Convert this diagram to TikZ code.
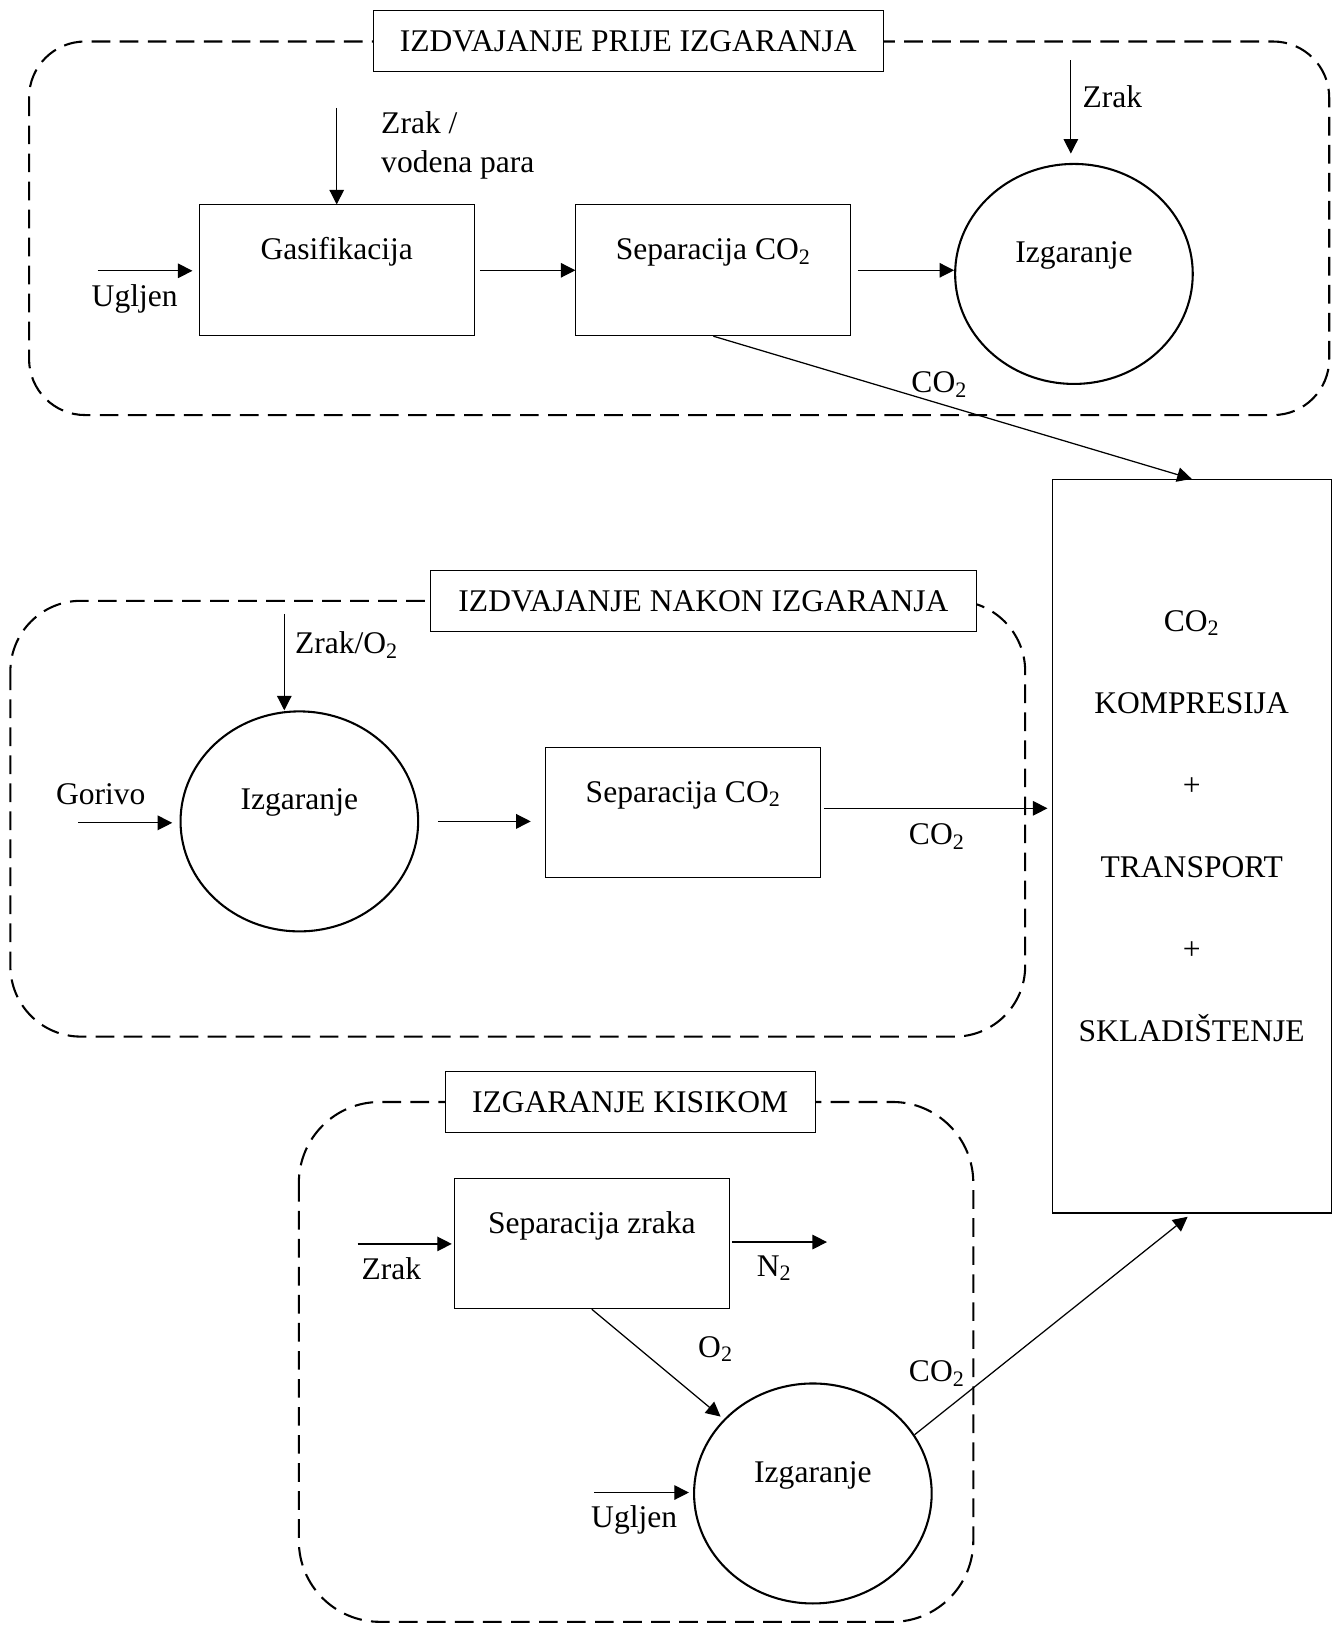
\documentclass[tikz,border=0pt]{standalone}
\usepackage{fontspec}
\setmainfont{Liberation Serif}
\usetikzlibrary{arrows.meta,shapes.geometric}

\tikzset{
    procbox/.style={draw, line width=0.5pt, minimum width=132.5pt, minimum height=63pt, text height=10pt, text depth=20pt},
    burner/.style={draw, ellipse, line width=1pt, minimum width=114.5pt, minimum height=106pt, text height=10pt, text depth=21pt},
    titlebox/.style={draw, fill=white, line width=0.5pt, minimum height=29.5pt, text height=10pt, text depth=0pt},
    group/.style={line width=1pt, dash pattern=on 9pt off 4.5pt},
    flow/.style={-{Triangle[length=7pt,width=7pt]}, line width=0.6pt},
    lbl/.style={inner sep=0pt, anchor=base west},
}

\begin{document}
\begin{tikzpicture}[x=0.5pt, y=-0.5pt, font=\fontsize{15.2pt}{18.5pt}\selectfont]
        \useasboundingbox (0,0) rectangle (1290,1568);

        \draw [group, rounded corners=27pt] (28,40) rectangle (1281,400);
        \draw [group, rounded corners=34pt] (10,579) rectangle (988,999);
        \draw [group, rounded corners=39pt] (288,1062) rectangle (938,1563);

        \node [titlebox, minimum width=245.5pt] (titleA) at (605.5,39.5) {IZDVAJANJE PRIJE IZGARANJA};
        \node [titlebox, minimum width=263pt] (titleB) at (678,579.5) {IZDVAJANJE NAKON IZGARANJA};
        \node [titlebox, minimum width=178.3pt] (titleC) at (607.3,1061.8) {IZGARANJE KISIKOM};

        \node [procbox] (gasA) at (324.5,260.5) {Gasifikacija};
        \node [procbox] (sepA) at (687.5,260.5) {Separacija CO\textsubscript{2}};
        \node [burner] (burnA) at (1035,264) {Izgaranje};

        \node [burner] (burnB) at (288.5,791.6) {Izgaranje};
        \node [procbox] (sepB) at (658.5,783) {Separacija CO\textsubscript{2}};

        \node [procbox] (sepC) at (570.4,1198.3) {Separacija zraka};
        \node [burner] (burnC) at (783.4,1439.3) {Izgaranje};

        \node [draw, line width=0.5pt, minimum width=134.5pt, minimum height=353.5pt] (store) at (1148.5,815.5) {};
        \node [align=center, font=\fontsize{15.2pt}{39.5pt}\selectfont] (storetext) at (1148.5,796) {CO\textsubscript{2}\\KOMPRESIJA\\+\\TRANSPORT\\+\\SKLADIŠTENJE};

        \coordinate (inA) at (94,261);
        \coordinate (airA) at (324.5,104);
        \coordinate (airA2) at (1032,58);
        \coordinate (fuelB) at (75.5,793);
        \coordinate (airB) at (274,591.5);
        \coordinate (airC) at (344.7,1198.8);
        \coordinate (outC) at (797,1197);
        \coordinate (coalC) at (572.6,1438.4);

        \draw [flow, shorten >=3pt] (inA) to (inA -| gasA.west);
        \draw [flow] (airA) to (gasA.north);
        \draw [flow, shorten <=2.5pt] (gasA.east) to (sepA.west);
        \draw [flow, shorten <=3pt] (sepA.east) to (sepA.east -| burnA.west);
        \draw [flow, shorten >=4.5pt] (airA2) to (airA2 |- burnA.north);
        \draw [flow] (sepA.south) to (store.north);

        \draw [flow, shorten >=3.5pt] (fuelB) to (fuelB -| burnB.west);
        \draw [flow] (airB) to (airB |- burnB.north);
        \draw [flow, shorten <=9pt, shorten >=7pt] (burnB.east) to (burnB.east -| sepB.west);
        \draw [flow, shorten <=1.3pt, shorten >=2pt] ([yshift=2pt]sepB.east) to ([yshift=2pt]sepB.east -| store.west);

        \draw [flow, shorten >=1pt] (airC) to (airC -| sepC.west);
        \draw [flow, shorten <=1pt] (outC -| sepC.east) to (outC);
        \draw [flow, shorten >=2pt] (sepC.south) to (burnC);
        \draw [flow, shorten >=2pt] (coalC) to (coalC -| burnC.west);
        \draw [flow, shorten >=2.5pt] (burnC.30) to (store.south);

        \node [lbl] (lblInA) at (88,295.5) {Ugljen};
        \node [lbl, anchor=west, align=left] (lblAirA) at (367,140) {Zrak /\\vodena para};
        \node [lbl] (lblAirA2) at (1043,104) {Zrak};
        \node [lbl] (lblCoA) at (878,378.5) {CO\textsubscript{2}};
        \node [lbl] (lblAirB) at (284,630) {Zrak/O\textsubscript{2}};
        \node [lbl] (lblFuelB) at (53.6,775.5) {Gorivo};
        \node [lbl] (lblCoB) at (875.6,814) {CO\textsubscript{2}};
        \node [lbl] (lblAirC) at (348,1233) {Zrak};
        \node [lbl] (lblOutC) at (729,1230) {N\textsubscript{2}};
        \node [lbl] (lblOxC) at (672.5,1308) {O\textsubscript{2}};
        \node [lbl] (lblCoC) at (875.6,1331.5) {CO\textsubscript{2}};
        \node [lbl] (lblCoalC) at (569.4,1472.5) {Ugljen};
\end{tikzpicture}
\end{document}
